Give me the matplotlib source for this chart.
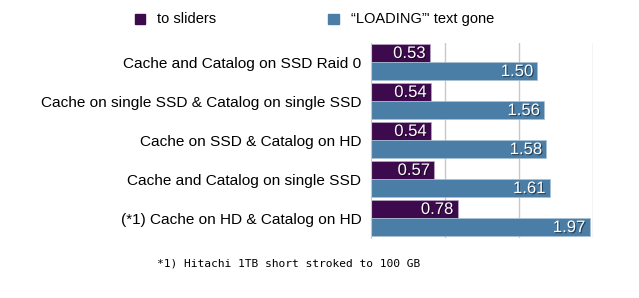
import matplotlib.pyplot as plt
import matplotlib.patheffects as pe
import numpy as np

plt.rcParams['font.family'] = ['Liberation Sans', 'DejaVu Sans']

categories = ['Cache and Catalog on SSD Raid 0',
              'Cache on single SSD & Catalog on single SSD',
              'Cache on SSD & Catalog on HD',
              'Cache and Catalog on single SSD',
              '(*1) Cache on HD & Catalog on HD']
to_sliders = [0.53, 0.54, 0.54, 0.57, 0.78]
loading_gone = [1.50, 1.56, 1.58, 1.61, 1.97]
series_names = ['to sliders', '\u201cLOADING\u201d\' text gone']

purple = '#3d0a4d'
blue = '#4a7ea6'

fig = plt.figure(figsize=(6.39, 2.98), dpi=100)
ax = fig.add_axes([0.5806, 0.2013, 0.928 - 0.5806, 0.8557 - 0.2013])

y = np.arange(len(categories))
h = 0.465
shadow = [pe.SimplePatchShadow(offset=(0.8, -0.8), shadow_rgbFace='black', alpha=0.5), pe.Normal()]

b1 = ax.barh(y - h / 2 - 0.02, to_sliders, height=h, color=purple, edgecolor='#b8a9c4', linewidth=0.5)
b2 = ax.barh(y + h / 2 - 0.02, loading_gone, height=h, color=blue, edgecolor='#a9c2d6', linewidth=0.5)

for bars, vals in [(b1, to_sliders), (b2, loading_gone)]:
    for bar, v in zip(bars, vals):
        ax.text(v - 0.04, bar.get_y() + bar.get_height() / 2 + 0.02, '%.2f' % v,
                ha='right', va='center', color='white', fontsize=12, path_effects=shadow)

ax.set_xlim(0, 2.0)
ax.set_ylim(len(categories) - 0.5, -0.5)
ax.set_xticks([2 / 3, 4 / 3, 2.0])
ax.set_xticklabels([])
ax.tick_params(axis='x', length=0)
ax.grid(axis='x', color='#c8c8c8', linewidth=1)
ax.set_axisbelow(True)
ax.set_yticks(y)
ax.set_yticklabels(categories, fontsize=11.1)
ax.tick_params(axis='y', length=0, pad=7)
for s in ['top', 'right', 'bottom']:
    ax.spines[s].set_visible(False)
ax.spines['left'].set_color('#c8c8c8')

# legend
fig.patches.append(plt.Rectangle((135 / 639, 1 - 24 / 298), 10 / 639, 10 / 298,
                                 transform=fig.transFigure, color=purple))
fig.text(157 / 639, 1 - 19 / 298, series_names[0], fontsize=10.5, va='center')
fig.patches.append(plt.Rectangle((328 / 639, 1 - 24 / 298), 11 / 639, 10 / 298,
                                 transform=fig.transFigure, color=blue))
fig.text(351 / 639, 1 - 19 / 298, series_names[1], fontsize=10.5, va='center')

fig.text(157 / 639, 1 - 263 / 298, '*1) Hitachi 1TB short stroked to 100 GB',
         family='DejaVu Sans Mono', fontsize=8.1, va='center')

fig.savefig('out.png', dpi=100)
